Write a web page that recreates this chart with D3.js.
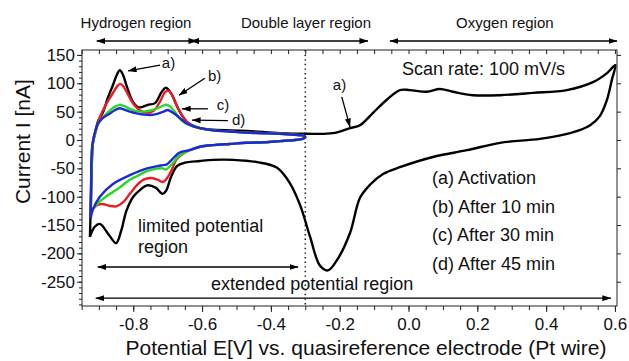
<!DOCTYPE html>
<html>
<head>
<meta charset="utf-8">
<script src="https://cdn.jsdelivr.net/npm/d3@7"></script>
<style>
  body { margin: 0; background: #fff; }
  svg { display: block; font-family: "Liberation Sans", Arial, Helvetica, sans-serif; }
</style>
</head>
<body>
<div id="chart"></div>
<script>
// DATA: [potential E (V), current I (nA)]
// (a) activation scan, full window
const activation = [
  [-0.926, -171], [-0.923, -106], [-0.920, -35], [-0.917, -4], [-0.912, 9], [-0.903, 32],
  [-0.888, 49], [-0.874, 74], [-0.859, 97], [-0.847, 116], [-0.839, 123], [-0.830, 115],
  [-0.819, 95], [-0.801, 67], [-0.787, 58], [-0.775, 58], [-0.758, 62], [-0.737, 65],
  [-0.717, 85], [-0.705, 92], [-0.687, 79], [-0.670, 56], [-0.644, 32], [-0.606, 21],
  [-0.568, 18], [-0.470, 16], [-0.374, 12], [-0.298, 11], [-0.220, 12], [-0.170, 21],
  [-0.141, 26], [-0.103, 48], [-0.063, 71], [-0.025, 88], [0.004, 88], [0.053, 85],
  [0.091, 90], [0.129, 85], [0.187, 79], [0.266, 79], [0.362, 83], [0.460, 88],
  [0.536, 102], [0.577, 118], [0.601, 132],
  [0.591, 106], [0.577, 71], [0.556, 42], [0.528, 26], [0.470, 12], [0.382, 2],
  [0.266, -5], [0.170, -18], [0.071, -30], [-0.025, -48], [-0.074, -60], [-0.112, -79],
  [-0.141, -102], [-0.170, -164], [-0.208, -212], [-0.234, -230], [-0.257, -222],
  [-0.286, -171], [-0.315, -115], [-0.345, -76], [-0.382, -49], [-0.440, -39],
  [-0.510, -35], [-0.568, -35], [-0.606, -37], [-0.650, -40], [-0.673, -46],
  [-0.690, -65], [-0.705, -90], [-0.715, -95], [-0.735, -84], [-0.760, -80],
  [-0.780, -88], [-0.800, -100], [-0.820, -125], [-0.835, -160], [-0.850, -182],
  [-0.870, -168], [-0.897, -148], [-0.912, -153], [-0.926, -171]
]

// shared double-layer part of the limited scans (b)-(d)
const tailUpper = [
  [-0.625, 24], [-0.606, 21], [-0.568, 17], [-0.520, 15], [-0.470, 13], [-0.420, 12],
  [-0.374, 11], [-0.330, 9], [-0.308, 8], [-0.300, 5]
]
const tailLower = [
  [-0.308, 2], [-0.330, 0], [-0.374, -2], [-0.420, -4], [-0.470, -5], [-0.520, -7],
  [-0.568, -9], [-0.606, -12], [-0.636, -18]
]

const after10Up = [
  [-0.924, -128], [-0.922, -60], [-0.919, -12], [-0.915, 5], [-0.908, 18], [-0.897, 40],
  [-0.880, 62], [-0.860, 82], [-0.845, 96], [-0.838, 99], [-0.828, 94], [-0.815, 80],
  [-0.800, 64], [-0.780, 52], [-0.760, 48], [-0.740, 52], [-0.722, 68], [-0.708, 84],
  [-0.698, 87], [-0.688, 80], [-0.675, 62], [-0.660, 45], [-0.644, 32]
]
const after10Down = [
  [-0.660, -26], [-0.675, -35], [-0.690, -55], [-0.705, -70], [-0.715, -74], [-0.730, -70],
  [-0.750, -67], [-0.770, -70], [-0.790, -80], [-0.810, -95], [-0.830, -110], [-0.850, -117],
  [-0.870, -116], [-0.890, -113], [-0.905, -115], [-0.918, -122], [-0.924, -128]
]

const after30Up = [
  [-0.923, -125], [-0.921, -50], [-0.918, -8], [-0.912, 9], [-0.903, 28], [-0.888, 40],
  [-0.870, 51], [-0.855, 58], [-0.840, 62], [-0.828, 60], [-0.810, 55], [-0.790, 51],
  [-0.770, 50], [-0.750, 52], [-0.725, 57], [-0.707, 62], [-0.695, 60], [-0.680, 50],
  [-0.665, 38], [-0.650, 30]
]
const after30Down = [
  [-0.665, -27], [-0.690, -44], [-0.705, -52], [-0.715, -50], [-0.735, -51], [-0.760, -55],
  [-0.790, -64], [-0.810, -70], [-0.840, -84], [-0.860, -92], [-0.880, -100], [-0.900, -110],
  [-0.915, -120], [-0.923, -125]
]

const after45Up = [
  [-0.924, -138], [-0.922, -60], [-0.920, -15], [-0.916, 0], [-0.912, 12], [-0.903, 28],
  [-0.890, 38], [-0.870, 46], [-0.855, 52], [-0.840, 56], [-0.828, 54], [-0.810, 50],
  [-0.790, 47], [-0.770, 45], [-0.750, 44], [-0.730, 46], [-0.712, 50], [-0.700, 53],
  [-0.690, 50], [-0.675, 44], [-0.660, 36], [-0.644, 29]
]
const after45Down = [
  [-0.665, -22], [-0.690, -36], [-0.702, -43], [-0.720, -45], [-0.760, -50], [-0.810, -62],
  [-0.860, -78], [-0.897, -100], [-0.917, -122], [-0.924, -138]
]

const xTickLabels = [-0.8, -0.6, -0.4, -0.2, 0.0, 0.2, 0.4, 0.6]
const yTickLabels = [-250, -200, -150, -100, -50, 0, 50, 100, 150]
const legendLabels = ["(a) Activation", "(b) After 10 min", "(c) After 30 min", "(d) After 45 min"]

// DIMENSIONS
const width = 629
const height = 361
const frame = { left: 82, right: 617, top: 50, bottom: 306 }

const xScale = d3.scaleLinear().domain([-0.949, 0.606]).range([frame.left, frame.right])
const yScale = d3.scaleLinear().domain([-292.8, 158.7]).range([frame.bottom, frame.top])

const svg = d3.select("#chart").append("svg")
  .attr("width", width)
  .attr("height", height)

// arrow head
svg.append("defs").append("marker")
  .attr("id", "head")
  .attr("viewBox", "0 0 9 6")
  .attr("refX", 8.5).attr("refY", 3)
  .attr("markerWidth", 9).attr("markerHeight", 6)
  .attr("markerUnits", "userSpaceOnUse")
  .attr("orient", "auto-start-reverse")
  .append("path").attr("d", "M0,0 L9,3 L0,6 Z").attr("fill", "#000")

// AXES
const fmtX = (d) => d.toFixed(1)
const xMinor = d3.range(-0.95, 0.6001, 0.05)
const yMinor = d3.range(-290, 151, 10)

svg.append("g")
  .attr("transform", `translate(0,${frame.bottom})`)
  .call(d3.axisBottom(xScale).tickValues(xMinor).tickSize(4).tickFormat(""))
svg.append("g")
  .attr("transform", `translate(0,${frame.bottom})`)
  .call(d3.axisBottom(xScale).tickValues(xTickLabels).tickSize(6).tickPadding(6).tickFormat(fmtX))
  .call((g) => g.selectAll("text").attr("font-size", 17).attr("fill", "#111"))

svg.append("g")
  .attr("transform", `translate(0,${frame.top})`)
  .call(d3.axisTop(xScale).tickValues(xMinor).tickSize(-4).tickFormat(""))

svg.append("g")
  .attr("transform", `translate(${frame.left},0)`)
  .call(d3.axisLeft(yScale).tickValues(yMinor).tickSize(3).tickFormat(""))
svg.append("g")
  .attr("transform", `translate(${frame.left},0)`)
  .call(d3.axisLeft(yScale).tickValues(yTickLabels).tickSize(5).tickPadding(2).tickFormat((d) => String(d)))
  .call((g) => g.selectAll("text").attr("font-size", 17).attr("fill", "#111"))

svg.append("g")
  .attr("transform", `translate(${frame.right},0)`)
  .call(d3.axisRight(yScale).tickValues(yTickLabels).tickSize(4).tickFormat(""))

svg.selectAll(".domain").remove()
svg.selectAll(".tick line").attr("stroke", "#222")

svg.append("rect")
  .attr("x", frame.left).attr("y", frame.top)
  .attr("width", frame.right - frame.left).attr("height", frame.bottom - frame.top)
  .attr("fill", "none").attr("stroke", "#222").attr("stroke-width", 1)

// dotted boundary of the limited window
svg.append("line")
  .attr("x1", xScale(-0.3)).attr("x2", xScale(-0.3))
  .attr("y1", frame.top).attr("y2", frame.bottom)
  .attr("stroke", "#222").attr("stroke-width", 1.6)
  .attr("stroke-dasharray", "1.4,3.2")

// CURVES
const line = d3.line()
  .x((d) => xScale(d[0]))
  .y((d) => yScale(d[1]))
  .curve(d3.curveCatmullRom.alpha(0.5))

const series = [
  { data: activation, color: "#000000" },
  { data: [...after10Up, ...tailUpper, ...tailLower, ...after10Down], color: "#ec1c24" },
  { data: [...after30Up, ...tailUpper, ...tailLower, ...after30Down], color: "#27d827" },
  { data: [...after45Up, ...tailUpper, ...tailLower, ...after45Down], color: "#1d28d6" },
]

svg.append("g").selectAll("path").data(series).enter()
  .append("path")
  .attr("d", (d) => line(d.data))
  .attr("fill", "none")
  .attr("stroke", (d) => d.color)
  .attr("stroke-width", 2.4)
  .attr("stroke-linejoin", "round")

// REGION LABELS
const arrow = (x1, y1, x2, y2, both) => {
  const l = svg.append("line")
    .attr("x1", x1).attr("y1", y1).attr("x2", x2).attr("y2", y2)
    .attr("stroke", "#000").attr("stroke-width", 1.3)
    .attr("marker-end", "url(#head)")
  if (both) l.attr("marker-start", "url(#head)")
}
const label = (x, y, text, size, anchor) => svg.append("text")
  .attr("x", x).attr("y", y)
  .attr("font-size", size)
  .attr("text-anchor", anchor || "start")
  .attr("fill", "#111")
  .text(text)

label(xScale(-0.792), 28, "Hydrogen region", 15, "middle")
label(xScale(-0.298), 28, "Double layer region", 15, "middle")
label(xScale(0.280), 28, "Oxygen region", 15, "middle")
arrow(xScale(-0.906), 41, xScale(-0.615), 41, true)
arrow(xScale(-0.633), 41, xScale(-0.118), 41, true)
arrow(xScale(-0.054), 41, xScale(0.606), 41, true)

label(xScale(-0.786), yScale(-162), "limited potential", 18)
label(xScale(-0.786), yScale(-199), "region", 18)
arrow(xScale(-0.903), yScale(-224), xScale(-0.321), yScale(-224), true)

label(xScale(-0.280), yScale(-264), "extended potential region", 18, "middle")
arrow(xScale(-0.909), yScale(-279), xScale(0.588), yScale(-279), true)

label(402, 75, "Scan rate: 100 mV/s", 18)

legendLabels.forEach((t, i) => label(432, 184 + i * 28.7, t, 18))

// curve annotations
const notes = [
  { t: "a)", from: [-0.722, 132], to: [-0.815, 122], at: [-0.717, 127] },
  { t: "b)", from: [-0.592, 109], to: [-0.667, 79], at: [-0.583, 104] },
  { t: "c)", from: [-0.583, 55], to: [-0.658, 55], at: [-0.557, 53] },
  { t: "d)", from: [-0.525, 34], to: [-0.629, 35], at: [-0.513, 26] },
  { t: "a)", from: [-0.194, 76], to: [-0.170, 23], at: [-0.220, 88] },
]
notes.forEach((n) => {
  arrow(xScale(n.from[0]), yScale(n.from[1]), xScale(n.to[0]), yScale(n.to[1]), false)
  label(xScale(n.at[0]), yScale(n.at[1]), n.t, 15)
})

// AXIS TITLES
svg.append("text")
  .attr("transform", `translate(30,${yScale(-3)}) rotate(-90)`)
  .attr("text-anchor", "middle")
  .attr("font-size", 21)
  .attr("fill", "#111")
  .text("Current I [nA]")

label(366, 355, "Potential E[V] vs. quasireference electrode (Pt wire)", 21, "middle")
</script>
</body>
</html>
